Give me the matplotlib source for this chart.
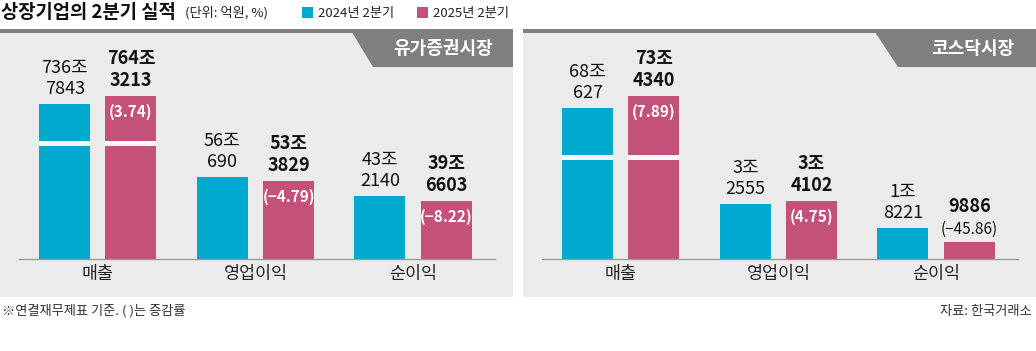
import numpy as np
import matplotlib
matplotlib.use('Agg')
import matplotlib.pyplot as plt
from matplotlib.patches import Rectangle, Polygon

plt.rcParams['font.family'] = ['Noto Sans CJK KR', 'DejaVu Sans']

# ---------------- data ----------------
categories = ['매출', '영업이익', '순이익']
series_names = ['2024년 2분기', '2025년 2분기']
kospi_2024 = [7367843, 560690, 432140]      # 억원
kospi_2025 = [7643213, 533829, 396603]
kospi_change = [3.74, -4.79, -8.22]          # %
kosdaq_2024 = [680627, 32555, 18221]
kosdaq_2025 = [734340, 34102, 9886]
kosdaq_change = [7.89, 4.75, -45.86]
panel_titles = ['유가증권시장', '코스닥시장']
title = '상장기업의 2분기 실적'
unit_text = '(단위: 억원, %)'
footnote = '※연결재무제표 기준. ( )는 증감률'
source = '자료: 한국거래소'

# ---------------- style ----------------
CYAN = '#00a9cd'
PINK = '#c4517a'
BG = '#ebebeb'
TAB = '#7f7f7f'
W, H = 1036, 351

fig = plt.figure(figsize=(W / 100, H / 100), dpi=100)


def fx(x):
    return x / W


def fy(y):
    return 1 - y / H


def fmt_val(v):
    jo, eok = divmod(int(v), 10000)
    return f'{jo}조\n{eok}' if jo else f'{eok}'


def fmt_pct(p):
    return f'({p:.2f})'.replace('-', '−')


def make_scale(kx, ky):
    kx = np.asarray(kx, float)
    ky = np.asarray(ky, float)
    return (lambda v: np.interp(v, kx, ky)), (lambda d: np.interp(d, ky, kx))


panels = [
    dict(name=panel_titles[0], v24=kospi_2024, v25=kospi_2025, chg=kospi_change,
         px=(0, 513), ax_px=(19, 495), tab=(350, 373), tab_text_x=443,
         knots=([-1000, 60, 700, 1e5], [-1000, 60, 99, 99 + 99300 * 0.196]),
         px_per_unit=1.46, break_px=(113, 118)),
    dict(name=panel_titles[1], v24=kosdaq_2024, v25=kosdaq_2025, chg=kosdaq_change,
         px=(523, 1036), ax_px=(542, 1018), tab=(873, 898), tab_text_x=973,
         knots=([-100, 4, 65, 1e4], [-100, 4, 8.53, 8.53 + (1e4 - 65) * 0.132]),
         px_per_unit=16.9, break_px=(99, 104)),
]

TOP_Y, STRIP_Y, TAB_Y, BOTTOM_Y = 29, 33, 67, 297
AX_TOP, BASE_Y = 40, 259
OFF, BW = 0.21, 0.324

for p in panels:
    x0, x1 = p['px']
    fig.patches.append(Rectangle((fx(x0), fy(BOTTOM_Y)), fx(x1) - fx(x0), fy(TOP_Y) - fy(BOTTOM_Y),
                                 transform=fig.transFigure, facecolor=BG, edgecolor='none', zorder=-2))
    fig.patches.append(Rectangle((fx(x0), fy(STRIP_Y)), fx(x1) - fx(x0), fy(TOP_Y) - fy(STRIP_Y),
                                 transform=fig.transFigure, facecolor=TAB, edgecolor='none', zorder=-1))
    t0, t1 = p['tab']
    fig.patches.append(Polygon([(fx(t0), fy(TOP_Y)), (fx(x1), fy(TOP_Y)), (fx(x1), fy(TAB_Y)), (fx(t1), fy(TAB_Y))],
                               closed=True, transform=fig.transFigure, facecolor=TAB, edgecolor='none', zorder=-1))
    fig.text(fx(p['tab_text_x']), fy(49), p['name'], color='white', fontsize=13, fontweight='bold',
             ha='center', va='center')

    a0, a1 = p['ax_px']
    ax = fig.add_axes([fx(a0), fy(BASE_Y), fx(a1) - fx(a0), fy(AX_TOP) - fy(BASE_Y)])
    ax.set_facecolor('none')
    fwd, inv = make_scale(*p['knots'])
    ax.set_yscale('function', functions=(fwd, inv))
    ax.set_xlim(-0.5, 2.52)
    ppu = p['px_per_unit']
    ax.set_ylim(0, inv((BASE_Y - AX_TOP) / ppu))

    x = np.arange(len(categories))
    h24 = np.array(p['v24']) / 1e4
    h25 = np.array(p['v25']) / 1e4
    ax.bar(x - OFF, h24, BW, color=CYAN, zorder=2)
    ax.bar(x + OFF, h25, BW, color=PINK, zorder=2)

    # axis break band on bars taller than the break
    lo = inv(p['break_px'][0] / ppu)
    hi = inv(p['break_px'][1] / ppu)
    for j in range(len(x)):
        for xx, hh in ((x[j] - OFF, h24[j]), (x[j] + OFF, h25[j])):
            if hh > hi:
                ax.bar(xx, hi - lo, BW, bottom=lo, color='#f6f6f6', zorder=3)

    for j in range(len(x)):
        ax.annotate(fmt_val(p['v24'][j]), (x[j] - OFF, h24[j]), xytext=(0, 4.5), textcoords='offset points',
                    ha='center', va='bottom', fontsize=13, linespacing=1.2, color='#111111')
        bar_px = fwd(h25[j]) * ppu
        if bar_px > 35:
            ax.annotate(fmt_val(p['v25'][j]), (x[j] + OFF, h25[j]), xytext=(0, 4.5), textcoords='offset points',
                        ha='center', va='bottom', fontsize=13, linespacing=1.2, fontweight='bold',
                        color='#111111')
            ax.annotate(fmt_pct(p['chg'][j]), (x[j] + OFF, h25[j]), xytext=(0, -11.5), textcoords='offset points',
                        ha='center', va='center', fontsize=11, fontweight='bold', color='white', zorder=4)
        else:
            ax.annotate(fmt_pct(p['chg'][j]), (x[j] + OFF, h25[j]), xytext=(0, 3.5), textcoords='offset points',
                        ha='center', va='bottom', fontsize=11, color='#111111')
            ax.annotate(fmt_val(p['v25'][j]), (x[j] + OFF, h25[j]), xytext=(0, 19), textcoords='offset points',
                        ha='center', va='bottom', fontsize=13, fontweight='bold', color='#111111')

    ax.set_xticks(x)
    ax.set_xticklabels(categories, fontsize=12.5, color='#222222')
    ax.tick_params(axis='x', length=0, pad=4)
    ax.set_yticks([])
    ax.yaxis.set_minor_locator(matplotlib.ticker.NullLocator())
    for s in ('top', 'right', 'left'):
        ax.spines[s].set_visible(False)
    ax.spines['bottom'].set_color('#9a9a9a')
    ax.spines['bottom'].set_linewidth(1.0)

# ---------------- title & legend ----------------
fig.text(fx(1), fy(13), title, fontsize=13.5, fontweight='bold', ha='left', va='center', color='#111111')
fig.text(fx(185), fy(13), unit_text, fontsize=9.5, ha='left', va='center', color='#222222')
for sx, tx, col, name in ((302, 318, CYAN, series_names[0]), (417, 433, PINK, series_names[1])):
    fig.patches.append(Rectangle((fx(sx), fy(18)), fx(11), 11 / H, transform=fig.transFigure,
                                 facecolor=col, edgecolor='none'))
    fig.text(fx(tx), fy(13), name, fontsize=9.5, ha='left', va='center', color='#222222')

fig.text(fx(2), fy(311), footnote, fontsize=9.5, ha='left', va='center', color='#333333')
fig.text(fx(1032), fy(311), source, fontsize=9.5, ha='right', va='center', color='#333333')

fig.savefig('out.png', dpi=100, facecolor='white')
